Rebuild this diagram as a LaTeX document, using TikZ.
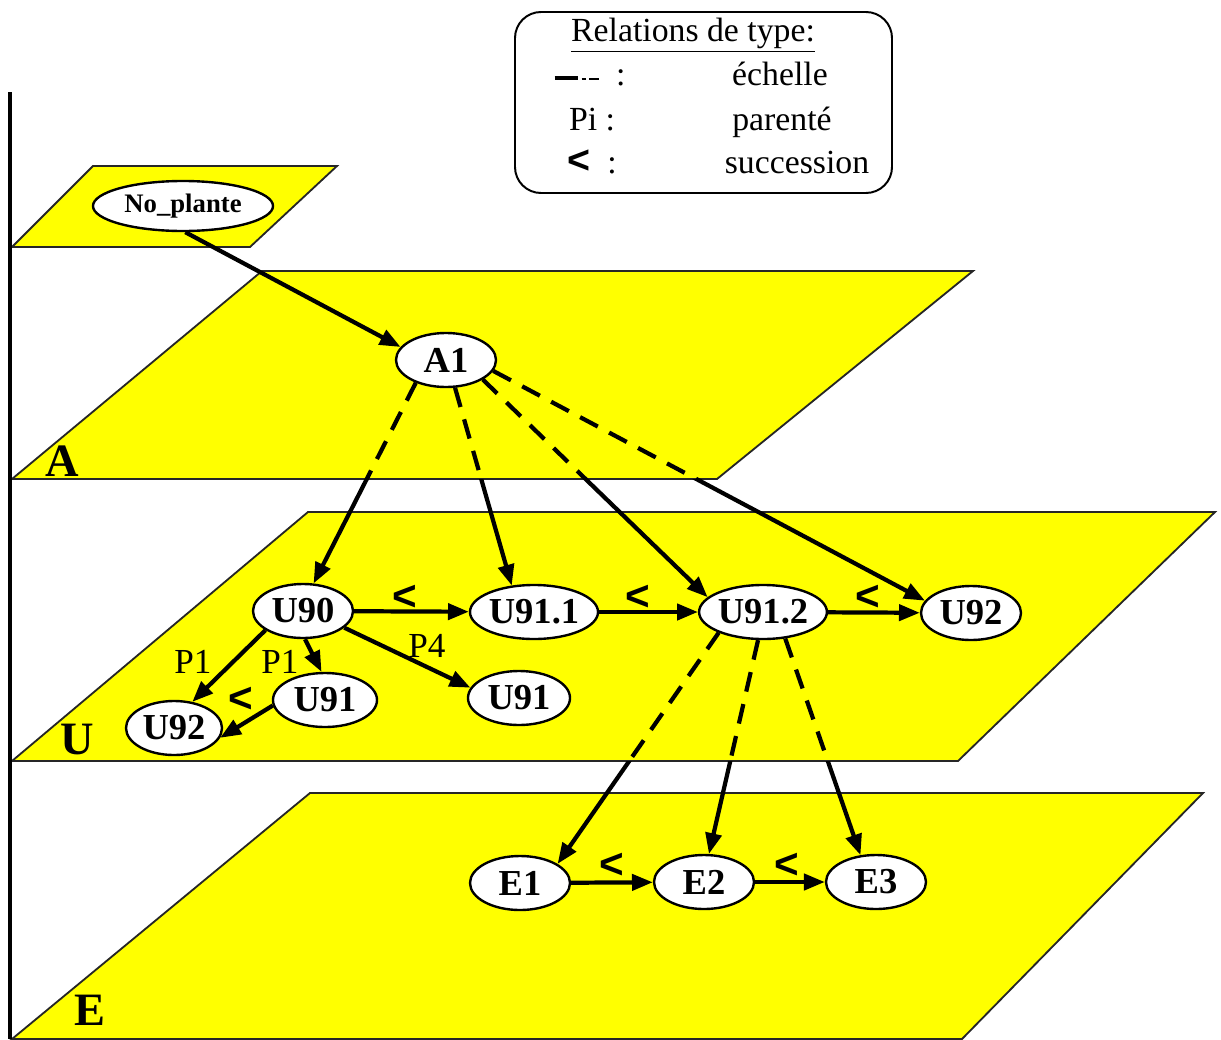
\documentclass[tikz,border=0pt]{standalone}
\usepackage{fontspec}
\setmainfont{Liberation Serif}
\newfontfamily\helv{Liberation Sans}
\usepackage{tikz}
\usetikzlibrary{shapes.geometric,arrows.meta}
\definecolor{planeyellow}{RGB}{255,255,0}

\begin{document}
\begin{tikzpicture}[
x=0.025cm, y=-0.025cm,
plane/.style={fill=planeyellow, draw=black!85, line width=1.3pt},
obj/.style={ellipse, draw, line width=1.7pt, fill=white, inner sep=0pt, minimum width=2.5cm, minimum height=1.35cm, font=\fontsize{26}{26}\selectfont\bfseries},
arrow/.style={-{Triangle[length=0.52cm,width=0.4cm]}, line width=3pt},
scale line/.style={line width=3pt, dash pattern=on 0.5cm off 0.32cm},
succ/.style={font=\helv\bfseries\fontsize{30}{30}\selectfont, inner sep=0pt},
par/.style={font=\fontsize{25}{25}\selectfont, inner sep=0pt},
level/.style={font=\fontsize{33}{33}\selectfont\bfseries, inner sep=0pt},
legend/.style={font=\fontsize{24}{24}\selectfont, anchor=base, inner sep=0pt}
]
\useasboundingbox (0,0) rectangle (1221,1039);

% planes
\draw[plane] (12,247) -- (250,247) -- (337,166) -- (93,166) -- cycle;
\draw[plane] (12,479) -- (717,479) -- (973,271) -- (262,271) -- cycle;
\draw[plane] (12,761) -- (958,761) -- (1215,512) -- (308,512) -- cycle;
\draw[plane] (12,1039) -- (962,1039) -- (1203,793) -- (310,793) -- cycle;
\draw[line width=3.5pt] (10,92) -- (10,1039);

\node[level] (lA) at (62,461) {A};
\node[level] (lU) at (77,740) {U};
\node[level] (lE) at (90,1010) {E};

% legend
\draw[rounded corners=0.65cm, line width=1.4pt] (515,12) rectangle (892,193);
\node[legend] (title) at (693,42) {\underline{Relations de type:}};
\node[legend] (k1) at (590,85) {\rule[0.3ex]{0.7em}{3pt}\hspace{0.1em}\rule[0.3ex]{0.12em}{1.8pt}\hspace{0.1em}\rule[0.3ex]{0.3em}{1.8pt}\ \ :};
\node[legend] (v1) at (780,85) {échelle};
\node[legend] (k2) at (592,130) {Pi :};
\node[legend] (v2) at (782,130) {parenté};
\node[legend] (k3) at (592,173) {{\helv\bfseries\fontsize{28}{28}\selectfont <}\ \ :};
\node[legend] (v3) at (797,173) {succession};

% objects
\node[obj, minimum width=4.5cm, minimum height=1.25cm, font=\fontsize{19}{19}\selectfont\bfseries] (plante) at (183,206) {No\_plante};
\node[obj] (a1) at (446,360) {A1};
\node[obj] (u90) at (303,611) {U90};
\node[obj, minimum width=3.2cm] (u911) at (534,612) {U91.1};
\node[obj, minimum width=3.05cm] (u912) at (763,612) {U91.2};
\node[obj] (u92) at (971,613) {U92};
\node[obj, minimum width=2.6cm] (u91a) at (325,700) {U91};
\node[obj, minimum width=2.4cm] (u92a) at (174,728) {U92};
\node[obj, minimum width=2.55cm] (u91b) at (519,698) {U91};
\node[obj] (e1) at (520,883) {E1};
\node[obj] (e2) at (704,882) {E2};
\node[obj] (e3) at (876,882) {E3};

% echelle: dashed above the plane edge, plain below
\begin{scope}
\clip (0,0) rectangle (1221,479);
\draw[scale line] (a1.-143) -- (u90.69);
\draw[scale line] (a1.-72) -- (u911.130);
\draw[scale line] (a1.-28) -- (u912.165);
\draw[scale line] (a1.-13) -- (u92.165);
\end{scope}
\begin{scope}
\clip (0,479) rectangle (1221,1039);
\draw[arrow] (a1.-143) -- (u90.69);
\draw[arrow] (a1.-72) -- (u911.130);
\draw[arrow] (a1.-28) -- (u912.165);
\draw[arrow] (a1.-13) -- (u92.165);
\end{scope}
\begin{scope}
\clip (0,0) rectangle (1221,761);
\draw[scale line] (u912.-155) -- (e1.27);
\draw[scale line] (u912.-100) -- (e2.80);
\draw[scale line] (u912.-50) -- (e3.120);
\end{scope}
\begin{scope}
\clip (0,761) rectangle (1221,1039);
\draw[arrow] (u912.-155) -- (e1.27);
\draw[arrow] (u912.-100) -- (e2.80);
\draw[arrow] (u912.-50) -- (e3.120);
\end{scope}

\draw[arrow] (plante.-85) -- (a1.164);

% succession
\draw[arrow] (u90) -- (u911);
\draw[arrow] (u911) -- (u912);
\draw[arrow] (u912) -- (u92);
\draw[arrow] (u91a.-174) -- (u92a.-12);
\draw[arrow] (e1) -- (e2);
\draw[arrow] (e2) -- (e3);
\node[succ] (s1) at (405,598) {<};
\node[succ] (s2) at (638,598) {<};
\node[succ] (s3) at (868,598) {<};
\node[succ] (s4) at (241,700) {<};
\node[succ] (s5) at (612,866) {<};
\node[succ] (s6) at (787,866) {<};

% parente
\draw[arrow] (u90.-153) -- (u92a.55);
\draw[arrow] (u90.-86) -- (u91a.97);
\draw[arrow] (u90.-22) -- (u91b.168);
\node[par] (p1) at (193,662) {P1};
\node[par] (p2) at (280,662) {P1};
\node[par] (p3) at (427,646) {P4};
\end{tikzpicture}
\end{document}
